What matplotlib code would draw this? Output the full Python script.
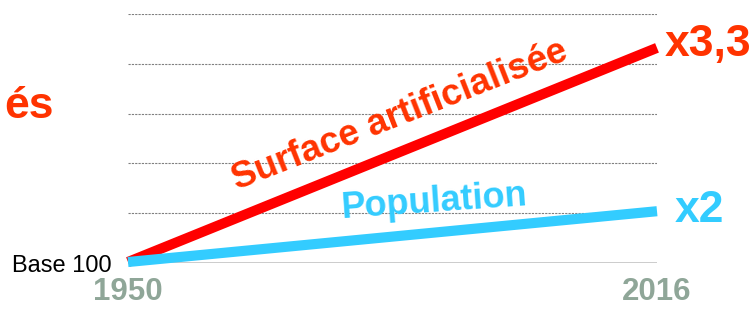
import matplotlib.pyplot as plt

years = [1950, 2016]
surface = [0.02, 4.32]      # surface artificialisee (indice schematique)
population = [0.02, 1.04]   # population
grid_levels = [1, 2, 3, 4, 5]

RED = '#FF0000'
ORANGE = '#FF3300'
CYAN = '#33CCFF'
GREYGREEN = '#8FA698'

plt.rcParams['font.family'] = ['Liberation Sans', 'DejaVu Sans']

fig = plt.figure(figsize=(7.54, 3.09), dpi=100)
ax = fig.add_axes([128 / 754, (309 - 263) / 309, 529 / 754, (263 - 14) / 309])
ax.set_xlim(1950, 2016)
ax.set_ylim(0, 5)

for lvl in grid_levels:
    ax.axhline(lvl, color='#808080', linestyle=(0, (2, 1)), linewidth=0.8, zorder=1)
ax.axhline(0, color='black', linewidth=1.0, zorder=1)

ax.plot(years, surface, color=RED, linewidth=7.3, solid_capstyle='butt', zorder=3, clip_on=False)
ax.plot(years, population, color=CYAN, linewidth=7.3, solid_capstyle='butt', zorder=4, clip_on=False)

ax.text(1984.4, 2.79, 'Surface artificialisée', color=ORANGE, fontsize=26.5, fontweight='bold',
        rotation=21.5, rotation_mode='anchor', ha='center', va='baseline')
ax.text(1988.3, 1.04, 'Population', color=CYAN, fontsize=26, fontweight='bold',
        rotation=4, rotation_mode='anchor', ha='center', va='baseline')
ax.text(2017.0, 4.38, 'x3,3', color=ORANGE, fontsize=32, fontweight='bold',
        ha='left', va='center', clip_on=False)
ax.text(2018.2, 1.06, 'x2', color=CYAN, fontsize=32, fontweight='bold',
        ha='left', va='center', clip_on=False)

fig.text(54 / 754, (309 - 118) / 309, 'és', color=ORANGE, fontsize=32, fontweight='bold',
         ha='right', va='baseline')

ax.set_xticks(years)
ax.set_xticklabels([str(y) for y in years], color=GREYGREEN, fontsize=22.5, fontweight='bold')
ax.set_yticks([0])
ax.set_yticklabels(['Base 100'], fontsize=17)
ax.tick_params(axis='x', length=0, pad=10)
ax.tick_params(axis='y', length=0, pad=12)
for s in ax.spines.values():
    s.set_visible(False)

fig.savefig('out.png', dpi=100)
